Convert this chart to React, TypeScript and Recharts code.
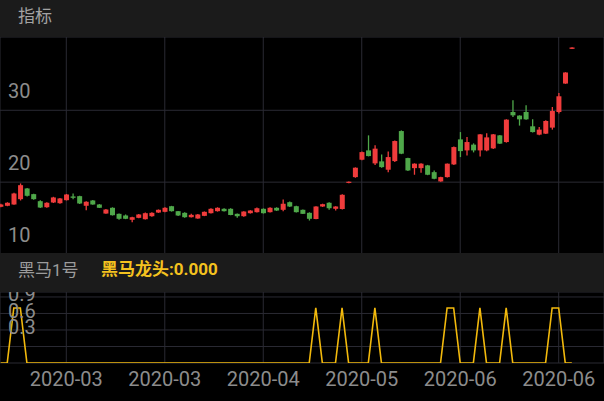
import React from 'react';
import { ComposedChart, Bar, Line, XAxis, YAxis, CartesianGrid } from 'recharts';

const opens = [
  16.57, 16.71, 16.89, 17.63, 19.12, 18.33, 17.35, 16.51, 17.17, 17.07,
  17.49, 18.01, 18.05, 16.71, 17.45, 16.89, 15.63, 16.43, 15.59, 15.36,
  14.76, 15.03, 14.84, 15.26, 15.77, 15.87, 16.65, 15.96, 15.73, 15.12,
  14.94, 15.31, 15.68, 15.96, 16.29, 16.29, 15.59, 15.26, 15.68, 15.82,
  16.29, 15.82, 16.43, 16.15, 17.21, 16.65, 16.15, 15.73, 14.87, 16.61,
  17.13, 16.29, 16.26, 19.89, 20.7, 23.12, 24.42, 22.61, 22.89, 21.73,
  22.93, 27.11, 23.35, 21.95, 21.95, 22.33, 21.39, 20.1, 20.7, 22.47,
  25.95, 24.42, 25.22, 24.42, 24.42, 24.7, 26.51, 25.58, 29.76, 29.26,
  29.76, 27.77, 26.61, 26.75, 27.59, 29.76, 33.72, 38.55,
];
const closes = [
  16.89, 17.13, 18.42, 19.58, 18.1, 17.63, 16.47, 17.13, 17.87, 17.73,
  18.28, 17.82, 17.03, 17.27, 16.89, 16.43, 16.19, 15.4, 14.9, 14.9,
  15.12, 15.5, 15.68, 15.73, 16.15, 16.43, 15.96, 15.36, 15.12, 15.45,
  15.5, 15.87, 16.29, 16.43, 15.96, 15.43, 15.26, 15.91, 16.05, 16.37,
  15.68, 16.43, 16.05, 16.99, 16.61, 15.82, 15.59, 14.9, 16.61, 16.93,
  16.37, 16.61, 18.24, 20.06, 22.01, 24.18, 23.63, 24.66, 22.09, 23.49,
  25.72, 23.96, 21.63, 22.57, 22.57, 21.03, 20.47, 20.7, 22.57, 24.88,
  24.32, 25.58, 24.42, 26.65, 26.23, 26.65, 25.36, 28.7, 29.3, 28.74,
  28.74, 26.97, 27.31, 28.51, 29.9, 31.95, 35.26, 38.74,
];
const highs = [
  17.0, 17.2, 18.52, 19.82, 19.2, 18.4, 17.49, 17.2, 17.96, 17.8,
  18.35, 18.42, 18.1, 17.35, 17.5, 16.95, 16.25, 16.5, 15.65, 15.5,
  15.18, 15.55, 15.77, 15.8, 16.2, 16.5, 16.7, 16.0, 15.8, 15.59,
  15.55, 15.92, 16.35, 16.5, 16.35, 16.35, 15.65, 15.95, 16.1, 16.47,
  16.35, 16.5, 16.5, 17.59, 17.31, 16.7, 16.2, 15.8, 16.65, 17.0,
  17.2, 16.65, 18.3, 20.1, 22.05, 24.28, 26.51, 25.12, 23.86, 24.28,
  25.8, 27.2, 23.4, 22.62, 22.62, 22.4, 21.63, 20.75, 22.6, 24.95,
  26.97, 26.28, 25.4, 26.7, 26.79, 26.7, 26.55, 28.75, 31.39, 29.3,
  30.7, 28.74, 27.67, 28.61, 30.46, 32.41, 35.3, 38.76,
];
const lows = [
  16.5, 16.65, 16.85, 17.45, 18.0, 17.55, 16.4, 16.45, 17.1, 17.0,
  17.45, 17.63, 16.95, 16.09, 16.85, 16.4, 15.6, 15.35, 14.76, 14.85,
  14.42, 14.98, 14.8, 15.2, 15.72, 15.82, 15.9, 15.3, 15.05, 15.08,
  14.9, 15.27, 15.63, 15.9, 15.9, 15.38, 15.03, 15.2, 15.63, 15.78,
  15.63, 15.78, 16.0, 15.96, 16.55, 15.78, 15.55, 14.66, 14.83, 16.55,
  16.15, 16.05, 16.2, 19.85, 20.61, 23.05, 23.58, 22.4, 22.0, 21.39,
  22.82, 23.9, 21.55, 21.03, 21.31, 20.97, 20.4, 20.05, 20.65, 22.4,
  23.49, 23.72, 24.14, 23.58, 24.3, 24.6, 25.3, 25.5, 29.07, 27.87,
  28.7, 26.9, 26.51, 26.7, 27.31, 29.54, 33.68, 38.53,
];
// 黑马龙头 signal
const signal = [
  0, 0, 1, 1, 0, 0, 0, 0, 0, 0,
  0, 0, 0, 0, 0, 0, 0, 0, 0, 0,
  0, 0, 0, 0, 0, 0, 0, 0, 0, 0,
  0, 0, 0, 0, 0, 0, 0, 0, 0, 0,
  0, 0, 0, 0, 0, 0, 0, 0, 1, 0,
  0, 0, 1, 0, 0, 0, 0, 1, 0, 0,
  0, 0, 0, 0, 0, 0, 0, 0, 1, 1,
  0, 0, 0, 1, 0, 0, 0, 1, 0, 0,
  0, 0, 0, 0, 1, 1, 0, 0,
];
const xTicks = [10, 25, 40, 55, 70, 85];
const xLabels = ['2020-03', '2020-03', '2020-04', '2020-05', '2020-06', '2020-06'];
const priceTicks = [10, 20, 30];
const signalTicks = [0.3, 0.6, 0.9, 1.2];

const RED = '#f03c3c';
const GREEN = '#4fa84a';
const YELLOW = '#f2b90c';
const GRID = '#2a2a33';
const LABEL = '#8c8c8c';
const BAND = '#1b1b1b';

const rows = opens.map((o, i) => ({
  i,
  open: o,
  close: closes[i],
  high: highs[i],
  low: lows[i],
  range: [lows[i], highs[i]],
  sig: signal[i],
}));

function Candle(props: any) {
  const { x, y, width, height, payload } = props;
  if (x == null || payload == null) return null;
  const { open, close, high, low } = payload;
  const top = Math.min(y, y + height);
  const h = Math.abs(height);
  const k = h / (high - low);
  const py = (v: number) => top + (high - v) * k;
  const color = close >= open ? RED : GREEN;
  const cx = x + width / 2;
  const bt = py(Math.max(open, close));
  const bb = py(Math.min(open, close));
  return (
    <g>
      <line x1={cx} x2={cx} y1={top} y2={top + h} stroke={color} strokeWidth={1.3} />
      <rect x={x} y={bt} width={width} height={Math.max(bb - bt, 1.2)} fill={color} />
    </g>
  );
}

const renderYTick = (props: any) => (
  <text key={props.index} x={8} y={props.y - 12} fill={LABEL} fontSize={20} fontFamily='Roboto'>
    {props.payload.value}
  </text>
);

const renderXTick = (props: any) => {
  const idx = xTicks.indexOf(props.payload.value);
  return (
    <text key={props.index} x={props.x} y={props.y} dy={23} textAnchor='middle' fill={LABEL} fontSize={20} fontFamily='Roboto'>
      {xLabels[idx]}
    </text>
  );
};

const bandText = { position: 'absolute' as const, fontFamily: "Roboto, 'Noto Sans CJK SC'", fontSize: 17 };

export default function App() {
  return (
    <div style={{ position: 'relative', width: 604, height: 401, background: '#000', overflow: 'hidden' }}>
      <style>{'body{margin:0}'}</style>
      <div style={{ position: 'absolute', left: 0, top: 0, width: 604, height: 37, background: BAND }}>
        <span style={{ ...bandText, left: 18, top: 2, color: '#a3a3a3' }}>指标</span>
      </div>

      <div style={{ position: 'absolute', left: 0, top: 37 }}>
        <ComposedChart width={604} height={217} data={rows} margin={{ top: 0, right: 0, bottom: 0, left: 0 }}>
          <CartesianGrid stroke={GRID} strokeWidth={1} />
          <XAxis dataKey='i' type='number' domain={[-0.1, 91.9]} ticks={xTicks} allowDataOverflow hide />
          <YAxis
            type='number'
            domain={[10, 40.2]}
            ticks={priceTicks}
            interval={0}
            allowDataOverflow
            mirror
            width={40}
            axisLine={false}
            tickLine={false}
            tick={renderYTick}
          />
          <Bar dataKey='range' barSize={5} shape={<Candle />} isAnimationActive={false} />
        </ComposedChart>
      </div>

      <div style={{ position: 'absolute', left: 0, top: 292 }}>
        <ComposedChart width={604} height={109} data={rows} margin={{ top: 0, right: 0, bottom: 0, left: 0 }}>
          <CartesianGrid stroke={GRID} strokeWidth={1} />
          <XAxis
            dataKey='i'
            type='number'
            domain={[-0.1, 91.9]}
            ticks={xTicks}
            interval={0}
            allowDataOverflow
            height={38}
            axisLine={false}
            tickLine={false}
            tickSize={0}
            tickMargin={0}
            tick={renderXTick}
          />
          <YAxis
            type='number'
            domain={[0, 1.29]}
            ticks={signalTicks}
            interval={0}
            allowDataOverflow
            mirror
            width={40}
            axisLine={false}
            tickLine={false}
            tick={renderYTick}
          />
          <Line type='linear' dataKey='sig' stroke={YELLOW} strokeWidth={1.6} dot={false} isAnimationActive={false} />
        </ComposedChart>
      </div>

      <div style={{ position: 'absolute', left: 0, top: 253, width: 604, height: 39, background: BAND }}>
        <span style={{ ...bandText, left: 18, top: 3, color: '#9c9c9c' }}>黑马1号</span>
        <span style={{ ...bandText, left: 101, top: 2, color: '#f4c21f', fontWeight: 700 }}>
          黑马龙头:{signal[signal.length - 1].toFixed(3)}
        </span>
      </div>
    </div>
  );
}
